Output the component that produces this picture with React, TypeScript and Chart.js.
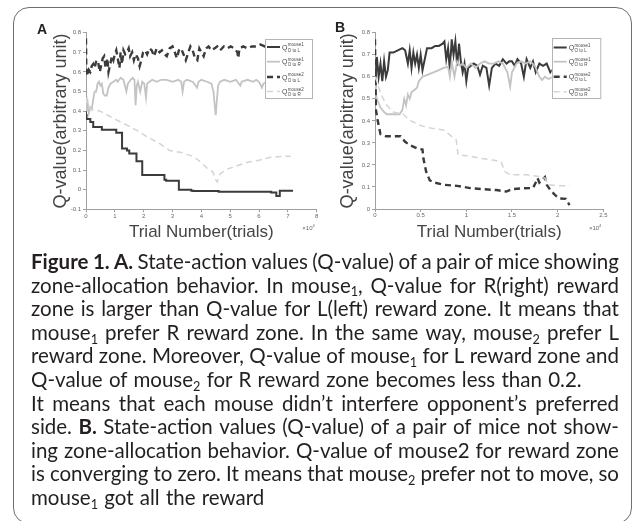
import React, { useEffect, useRef } from "react";
import { Chart, registerables } from "chart.js";
Chart.register(...registerables);

type Pair = [number, number];

// ---------- Panel A (x in units of 10^4 trials) ----------
const aMouse1L: Pair[] = [
  [0, 0.45], [0.02, 0.38], [0.15, 0.36], [0.25, 0.345], [0.55, 0.32], [1.05, 0.305],
  [1.25, 0.29], [1.42, 0.21], [1.5, 0.2], [1.75, 0.185], [1.95, 0.145], [2.72, 0.075],
  [2.78, 0.05], [3.22, 0.045], [3.65, 0.0], [3.72, -0.005], [4.6, -0.007], [6.42, -0.01],
  [6.6, -0.015], [6.72, -0.032], [6.96, -0.005], [7.18, -0.005],
];
const aMouse1R: Pair[] = [
  [0, 0.46], [0.03, 0.4], [0.06, 0.44], [0.1, 0.39], [0.15, 0.42], [0.2, 0.41], [0.25, 0.46],
  [0.3, 0.5], [0.35, 0.5], [0.4, 0.54], [0.45, 0.55], [0.5, 0.53], [0.55, 0.54], [0.6, 0.49],
  [0.65, 0.48], [0.72, 0.48], [0.78, 0.52], [0.85, 0.54], [0.95, 0.55], [1.05, 0.56], [1.1, 0.55],
  [1.2, 0.57], [1.3, 0.56], [1.35, 0.53], [1.4, 0.5], [1.45, 0.54], [1.55, 0.56], [1.62, 0.57],
  [1.68, 0.56], [1.72, 0.43], [1.76, 0.53], [1.8, 0.55], [1.88, 0.5], [1.95, 0.55], [2.02, 0.54],
  [2.08, 0.47], [2.12, 0.54], [2.2, 0.55], [2.3, 0.56], [2.45, 0.55], [2.6, 0.56], [2.8, 0.56],
  [3.0, 0.55], [3.2, 0.56], [3.3, 0.55], [3.35, 0.5], [3.4, 0.55], [3.5, 0.56], [3.7, 0.55],
  [3.85, 0.52], [3.9, 0.55], [4.0, 0.56], [4.2, 0.55], [4.35, 0.54], [4.42, 0.5], [4.47, 0.42],
  [4.5, 0.38], [4.53, 0.44], [4.58, 0.53], [4.65, 0.55], [4.8, 0.56], [5.0, 0.55], [5.2, 0.56],
  [5.35, 0.53], [5.4, 0.55], [5.6, 0.56], [5.8, 0.55], [5.9, 0.56], [6.0, 0.55], [6.1, 0.52],
  [6.15, 0.54], [6.3, 0.55], [6.5, 0.56], [6.8, 0.55], [7.1, 0.56],
];
const aMouse2L: Pair[] = [
  [0, 0.77], [0.01, 0.62], [0.03, 0.6], [0.06, 0.58], [0.1, 0.61], [0.15, 0.6], [0.2, 0.63],
  [0.25, 0.64], [0.3, 0.62], [0.36, 0.66], [0.42, 0.65], [0.48, 0.6], [0.52, 0.63], [0.58, 0.67],
  [0.63, 0.68], [0.68, 0.62], [0.74, 0.67], [0.78, 0.6], [0.84, 0.64], [0.9, 0.68], [0.95, 0.66],
  [1.0, 0.69], [1.05, 0.71], [1.1, 0.67], [1.16, 0.62], [1.2, 0.7], [1.25, 0.64], [1.3, 0.71],
  [1.36, 0.69], [1.42, 0.7], [1.48, 0.72], [1.53, 0.68], [1.6, 0.7], [1.66, 0.66], [1.72, 0.69],
  [1.8, 0.67], [1.86, 0.63], [1.92, 0.66], [1.98, 0.7], [2.05, 0.71], [2.12, 0.69], [2.2, 0.72],
  [2.28, 0.71], [2.36, 0.68], [2.45, 0.72], [2.55, 0.7], [2.63, 0.71], [2.72, 0.69], [2.8, 0.68],
  [2.9, 0.72], [3.0, 0.73], [3.08, 0.7], [3.15, 0.67], [3.22, 0.71], [3.3, 0.72], [3.38, 0.69],
  [3.46, 0.66], [3.55, 0.7], [3.62, 0.73], [3.7, 0.71], [3.78, 0.67], [3.86, 0.66], [3.93, 0.72],
  [4.0, 0.7], [4.08, 0.68], [4.16, 0.72], [4.25, 0.73], [4.35, 0.71], [4.45, 0.72], [4.55, 0.73],
  [4.65, 0.71], [4.78, 0.73], [4.9, 0.72], [5.02, 0.73], [5.15, 0.72], [5.25, 0.7], [5.28, 0.67],
  [5.32, 0.72], [5.45, 0.73], [5.6, 0.72], [5.75, 0.73], [5.9, 0.73], [6.05, 0.74], [6.2, 0.73],
  [6.35, 0.73], [6.5, 0.74], [6.7, 0.73], [6.9, 0.74], [7.12, 0.74],
];
const aMouse2R: Pair[] = [
  [0, 0.47], [0.05, 0.43], [0.15, 0.41], [0.5, 0.4], [1.0, 0.36], [1.4, 0.33], [1.8, 0.3],
  [2.1, 0.27], [2.5, 0.24], [2.9, 0.2], [3.3, 0.19], [3.7, 0.17], [3.9, 0.15], [4.2, 0.11],
  [4.4, 0.09], [4.5, 0.05], [4.55, 0.04], [4.65, 0.08], [4.9, 0.105], [5.2, 0.12], [5.6, 0.14],
  [6.0, 0.15], [6.4, 0.165], [6.8, 0.17], [7.1, 0.17],
];
const aXTicks = [0, 1, 2, 3, 4, 5, 6, 7, 8];
const aXTickLabels = ["0", "1", "2", "3", "4", "5", "6", "7", "8"];
const aYTicks = [-0.1, 0, 0.1, 0.2, 0.3, 0.4, 0.5, 0.6, 0.7, 0.8];
const aYTickLabels = ["-0.1", "0", "0.1", "0.2", "0.3", "0.4", "0.5", "0.6", "0.7", "0.8"];

// ---------- Panel B ----------
const bMouse1L: Pair[] = [
  [0, 0.56], [0.01, 0.62], [0.02, 0.69], [0.04, 0.6], [0.06, 0.66], [0.08, 0.58], [0.1, 0.67],
  [0.12, 0.6], [0.14, 0.63], [0.16, 0.71], [0.2, 0.71], [0.25, 0.72], [0.3, 0.73], [0.33, 0.72],
  [0.34, 0.7], [0.36, 0.66], [0.38, 0.72], [0.4, 0.64], [0.42, 0.71], [0.44, 0.66], [0.46, 0.7],
  [0.48, 0.64], [0.5, 0.7], [0.52, 0.63], [0.55, 0.69], [0.57, 0.73], [0.62, 0.73], [0.66, 0.74],
  [0.7, 0.74], [0.74, 0.75], [0.76, 0.76], [0.78, 0.68], [0.8, 0.73], [0.82, 0.63], [0.84, 0.77],
  [0.86, 0.7], [0.88, 0.76], [0.9, 0.65], [0.92, 0.75], [0.94, 0.67], [0.96, 0.62], [0.98, 0.66],
  [1.0, 0.58], [1.02, 0.64], [1.05, 0.65], [1.08, 0.66], [1.12, 0.65], [1.15, 0.61], [1.18, 0.65],
  [1.22, 0.64], [1.25, 0.56], [1.28, 0.64], [1.32, 0.66], [1.36, 0.65], [1.4, 0.68], [1.44, 0.66],
  [1.47, 0.67], [1.5, 0.67], [1.53, 0.65], [1.56, 0.68], [1.6, 0.66], [1.63, 0.6], [1.66, 0.68],
  [1.7, 0.64], [1.73, 0.67], [1.76, 0.62], [1.8, 0.66], [1.84, 0.65], [1.88, 0.66], [1.92, 0.62],
  [1.96, 0.64], [2.0, 0.63], [2.06, 0.65], [2.12, 0.64],
];
const bMouse1R: Pair[] = [
  [0, 0.6], [0.01, 0.52], [0.02, 0.5], [0.04, 0.48], [0.06, 0.46], [0.1, 0.44], [0.13, 0.43],
  [0.2, 0.43], [0.27, 0.43], [0.3, 0.45], [0.32, 0.5], [0.34, 0.47], [0.36, 0.52], [0.38, 0.5],
  [0.4, 0.53], [0.43, 0.54], [0.46, 0.55], [0.48, 0.58], [0.52, 0.6], [0.58, 0.61], [0.64, 0.62],
  [0.7, 0.63], [0.75, 0.64], [0.8, 0.645], [0.82, 0.6], [0.84, 0.67], [0.87, 0.6], [0.9, 0.67],
  [0.93, 0.65], [0.96, 0.66], [1.0, 0.64], [1.05, 0.66], [1.1, 0.64], [1.15, 0.66], [1.2, 0.67],
  [1.25, 0.66], [1.3, 0.66], [1.35, 0.67], [1.4, 0.66], [1.45, 0.62], [1.48, 0.555], [1.5, 0.62],
  [1.55, 0.66], [1.6, 0.67], [1.65, 0.66], [1.7, 0.67], [1.75, 0.65], [1.8, 0.6], [1.83, 0.585],
  [1.86, 0.6], [1.9, 0.59], [1.95, 0.6], [2.0, 0.62], [2.12, 0.6],
];
const bMouse2L: Pair[] = [
  [0, 0.77], [0.005, 0.6], [0.01, 0.45], [0.03, 0.4], [0.06, 0.34], [0.12, 0.33], [0.28, 0.33],
  [0.33, 0.305], [0.38, 0.29], [0.46, 0.275], [0.52, 0.27], [0.53, 0.23], [0.56, 0.17],
  [0.6, 0.13], [0.65, 0.12], [0.75, 0.11], [0.9, 0.105], [1.04, 0.095], [1.18, 0.09],
  [1.33, 0.086], [1.44, 0.079], [1.5, 0.09], [1.62, 0.094], [1.73, 0.095], [1.76, 0.12],
  [1.78, 0.14], [1.8, 0.12], [1.86, 0.145], [1.88, 0.11], [1.92, 0.086], [1.97, 0.064],
  [2.02, 0.048], [2.09, 0.046], [2.13, 0.018],
];
const bMouse2R: Pair[] = [
  [0, 0.6], [0.02, 0.58], [0.05, 0.54], [0.09, 0.5], [0.13, 0.47], [0.2, 0.44], [0.31, 0.43],
  [0.37, 0.405], [0.49, 0.38], [0.62, 0.366], [0.75, 0.359], [0.82, 0.336], [0.89, 0.313],
  [0.91, 0.245], [1.04, 0.24], [1.15, 0.23], [1.29, 0.222], [1.38, 0.215], [1.42, 0.17],
  [1.48, 0.155], [1.66, 0.155], [1.8, 0.148], [1.86, 0.14], [1.9, 0.11], [2.0, 0.105], [2.13, 0.105],
];
const bXTicks = [0, 0.5, 1, 1.5, 2, 2.5];
const bXTickLabels = ["0", "0.5", "1", "1.5", "2", "2.5"];
const bYTicks = [0, 0.1, 0.2, 0.3, 0.4, 0.5, 0.6, 0.7, 0.8];
const bYTickLabels = ["0", "0.1", "0.2", "0.3", "0.4", "0.5", "0.6", "0.7", "0.8"];

// ---------- Legend ----------
const seriesLabels = ["Q mouse1 O to L", "Q mouse1 O to R", "Q mouse2 O to L", "Q mouse2 O to R"];
const legendSup = ["mouse1", "mouse1", "mouse2", "mouse2"];
const legendSub = ["O to L", "O to R", "O to L", "O to R"];

const FONT = '"Liberation Sans", Arial, Helvetica, sans-serif';

const seriesStyles = [
  { borderColor: "#3b3b3b", borderWidth: 2, borderDash: [] as number[] },
  { borderColor: "#c3c3c3", borderWidth: 1.8, borderDash: [] as number[] },
  { borderColor: "#3b3b3b", borderWidth: 2.4, borderDash: [6, 4] },
  { borderColor: "#d4d4d4", borderWidth: 1.5, borderDash: [6, 4] },
];

const qLegend = {
  id: "qLegend",
  afterDatasetsDraw(chart: any, _args: any, opts: any) {
    const ctx = chart.ctx;
    const { x, y, w, h, rows } = opts;
    ctx.save();
    ctx.fillStyle = "#ffffff";
    ctx.fillRect(x, y, w, h);
    ctx.strokeStyle = "#b4b4b4";
    ctx.lineWidth = 1;
    ctx.strokeRect(Math.round(x) + 0.5, Math.round(y) + 0.5, w, h);
    chart.data.datasets.forEach((ds: any, i: number) => {
      const ry = y + rows[i];
      ctx.beginPath();
      ctx.setLineDash(ds.borderDash || []);
      ctx.lineWidth = ds.borderWidth;
      ctx.strokeStyle = ds.borderColor;
      ctx.moveTo(x + 2, ry);
      ctx.lineTo(x + 15, ry);
      ctx.stroke();
      ctx.setLineDash([]);
      ctx.fillStyle = "#4a4a4a";
      ctx.textAlign = "left";
      ctx.textBaseline = "alphabetic";
      ctx.font = `7px ${FONT}`;
      ctx.fillText("Q", x + 17, ry + 2.5);
      const qw = ctx.measureText("Q").width;
      ctx.font = `4.5px ${FONT}`;
      ctx.fillText(legendSup[i], x + 17 + qw + 0.3, ry - 0.8);
      ctx.fillText(legendSub[i], x + 17 + qw + 0.3, ry + 4.6);
    });
    ctx.restore();
  },
};

const tenPow = {
  id: "tenPow",
  afterDraw(chart: any) {
    const ctx = chart.ctx;
    const { right, bottom } = chart.chartArea;
    ctx.save();
    ctx.fillStyle = "#666";
    ctx.textBaseline = "alphabetic";
    ctx.textAlign = "right";
    ctx.font = `4px ${FONT}`;
    const ex = "4";
    const exW = ctx.measureText(ex).width;
    ctx.fillText(ex, right - 2, bottom + 18);
    ctx.font = `6px ${FONT}`;
    ctx.fillText("\u00d710", right - 2 - exW, bottom + 21);
    ctx.restore();
  },
};

interface PanelSpec {
  series: Pair[][];
  stepped: boolean[];
  xMin: number; xMax: number; yMin: number; yMax: number;
  xTicks: number[]; xTickLabels: string[]; yTicks: number[]; yTickLabels: string[];
  width: number; height: number;
  padTop: number; padRight: number;
  yAxisWidth: number; xAxisHeight: number; yTitlePad: number;
  legendBox: { x: number; y: number; w: number; h: number; rows: number[] };
}

function buildConfig(spec: PanelSpec): any {
  return {
    type: "line",
    data: {
      datasets: spec.series.map((s, i) => ({
        label: seriesLabels[i],
        data: s.map(([x, y]) => ({ x, y })),
        ...seriesStyles[i],
        stepped: spec.stepped[i] ? "after" : false,
        pointRadius: 0,
        tension: 0,
        fill: false,
        order: 4 - i,
      })),
    },
    options: {
      animation: false,
      responsive: false,
      events: [],
      layout: { padding: { left: 0, top: spec.padTop, right: spec.padRight, bottom: 0 } },
      plugins: {
        legend: { display: false },
        tooltip: { enabled: false },
        qLegend: spec.legendBox,
      },
      scales: {
        x: {
          type: "linear",
          min: spec.xMin,
          max: spec.xMax,
          afterBuildTicks: (s: any) => { s.ticks = spec.xTicks.map((v) => ({ value: v })); },
          ticks: {
            callback: (_v: any, i: number) => spec.xTickLabels[i],
            font: { size: 6, family: FONT },
            color: "#666",
            padding: 0,
            maxRotation: 0,
            autoSkip: false,
          },
          grid: { display: true, drawOnChartArea: false, drawTicks: true, tickLength: 3, color: "#a0a0a0" },
          border: { display: true, color: "#a0a0a0", width: 1 },
          title: {
            display: true,
            text: "Trial Number(trials)",
            font: { size: 17, family: FONT },
            color: "#444",
            padding: { top: 0, bottom: 7.8 },
          },
          afterFit: (s: any) => { s.height = spec.xAxisHeight; },
        },
        y: {
          type: "linear",
          min: spec.yMin,
          max: spec.yMax,
          afterBuildTicks: (s: any) => { s.ticks = spec.yTicks.map((v) => ({ value: v })); },
          ticks: {
            callback: (_v: any, i: number) => spec.yTickLabels[i],
            font: { size: 6, family: FONT },
            color: "#666",
            padding: 2,
            autoSkip: false,
          },
          grid: { display: true, drawOnChartArea: false, drawTicks: true, tickLength: 3, color: "#a0a0a0" },
          border: { display: true, color: "#a0a0a0", width: 1 },
          title: {
            display: true,
            text: "Q-value(arbitrary unit)",
            font: { size: 18, family: FONT },
            color: "#444",
            padding: { top: spec.yTitlePad, bottom: 0 },
          },
          afterFit: (s: any) => { s.width = spec.yAxisWidth; },
        },
      },
    },
    plugins: [qLegend, tenPow],
  };
}

const specA: PanelSpec = {
  series: [aMouse1L, aMouse1R, aMouse2L, aMouse2R],
  stepped: [true, false, false, false],
  xMin: 0, xMax: 8, yMin: -0.1, yMax: 0.8,
  xTicks: aXTicks, xTickLabels: aXTickLabels, yTicks: aYTicks, yTickLabels: aYTickLabels,
  width: 320, height: 250,
  padTop: 32.7, padRight: 3.3,
  yAxisWidth: 86, xAxisHeight: 40.7, yTitlePad: 50.2,
  legendBox: { x: 265, y: 39, w: 47, h: 59, rows: [8, 22.7, 38, 52.5] },
};

const specB: PanelSpec = {
  series: [bMouse1L, bMouse1R, bMouse2L, bMouse2R],
  stepped: [false, false, false, false],
  xMin: 0, xMax: 2.5, yMin: 0, yMax: 0.8,
  xTicks: bXTicks, xTickLabels: bXTickLabels, yTicks: bYTicks, yTickLabels: bYTickLabels,
  width: 313, height: 250,
  padTop: 32.7, padRight: 29.7,
  yAxisWidth: 55, xAxisHeight: 41, yTitlePad: 17.7,
  legendBox: { x: 231.7, y: 38.3, w: 48.3, h: 60, rows: [9.2, 23.4, 38.4, 53.4] },
};

function Panel({ spec, left, top }: { spec: PanelSpec; left: number; top: number }) {
  const ref = useRef<HTMLCanvasElement>(null);
  useEffect(() => {
    const chart = new Chart(ref.current as HTMLCanvasElement, buildConfig(spec));
    return () => chart.destroy();
  }, [spec]);
  return (
    <div style={{ position: "absolute", left, top, width: spec.width, height: spec.height }}>
      <canvas ref={ref} width={spec.width} height={spec.height} style={{ width: spec.width, height: spec.height, display: "block" }} />
    </div>
  );
}

// ---------- Caption ----------
const captionLines: { text: string; justify: boolean }[] = [
  { text: "*Figure *1. *A. State-action values (Q-value) of a pair of mice showing", justify: true },
  { text: "zone-allocation behavior. In mouse_1, Q-value for R(right) reward", justify: true },
  { text: "zone is larger than Q-value for L(left) reward zone. It means that", justify: true },
  { text: "mouse_1 prefer R reward zone. In the same way, mouse_2 prefer L", justify: true },
  { text: "reward zone. Moreover, Q-value of mouse_1 for L reward zone and", justify: true },
  { text: "Q-value of mouse_2 for R reward zone becomes less than 0.2.", justify: false },
  { text: "It means that each mouse didn\u2019t interfere opponent\u2019s preferred", justify: true },
  { text: "side. *B. State-action values (Q-value) of a pair of mice not show-", justify: true },
  { text: "ing zone-allocation behavior. Q-value of mouse2 for reward zone", justify: true },
  { text: "is converging to zero. It means that mouse_2 prefer not to move, so", justify: true },
  { text: "mouse_1 got all the reward", justify: false },
];

function renderWord(word: string, key: number) {
  let bold = false;
  let w = word;
  if (w.startsWith("*")) { bold = true; w = w.slice(1); }
  const parts = w.split(/_(\d)/);
  return (
    <span key={key} style={{ fontWeight: bold ? 700 : 400, flex: "none" }}>
      {parts.map((p, i) =>
        i % 2 === 1 ? (
          <span key={i} style={{ fontSize: "0.62em", position: "relative", top: "0.3em" }}>{p}</span>
        ) : (
          <React.Fragment key={i}>{p}</React.Fragment>
        )
      )}
    </span>
  );
}

function Caption() {
  return (
    <div
      style={{
        position: "absolute",
        left: 31,
        top: 250,
        width: 588,
        fontFamily: "Lato, 'Noto Sans', sans-serif",
        fontSize: 20.5,
        letterSpacing: "0px",
        color: "#231f20",
      }}
    >
      {captionLines.map((ln, li) => {
        const words = ln.text.split(" ");
        if (ln.justify) {
          return (
            <div key={li} style={{ display: "flex", justifyContent: "space-between", height: 23.6, lineHeight: "23.6px", whiteSpace: "nowrap" }}>
              {words.map((w, wi) => renderWord(w, wi))}
            </div>
          );
        }
        return (
          <div key={li} style={{ height: 23.6, lineHeight: "23.6px", whiteSpace: "nowrap", wordSpacing: "1px" }}>
            {words.map((w, wi) => (
              <React.Fragment key={wi}>
                {wi > 0 ? " " : null}
                {renderWord(w, wi)}
              </React.Fragment>
            ))}
          </div>
        );
      })}
    </div>
  );
}

export default function App() {
  return (
    <div style={{ position: "absolute", left: 0, top: 0, width: 633, height: 521, overflow: "hidden", background: "#fff" }}>
      <div
        style={{
          position: "absolute",
          left: 13,
          top: 7,
          width: 619,
          height: 517,
          border: "1.5px solid #6e6e6e",
          borderRadius: 16,
          boxSizing: "border-box",
        }}
      />
      <Panel spec={specA} left={0} top={0} />
      <Panel spec={specB} left={320} top={0} />
      <div style={{ position: "absolute", left: 37, top: 22, font: `bold 14px ${FONT}`, lineHeight: "14px", color: "#222" }}>A</div>
      <div style={{ position: "absolute", left: 335, top: 20, font: `bold 14px ${FONT}`, lineHeight: "14px", color: "#222" }}>B</div>
      <Caption />
    </div>
  );
}
